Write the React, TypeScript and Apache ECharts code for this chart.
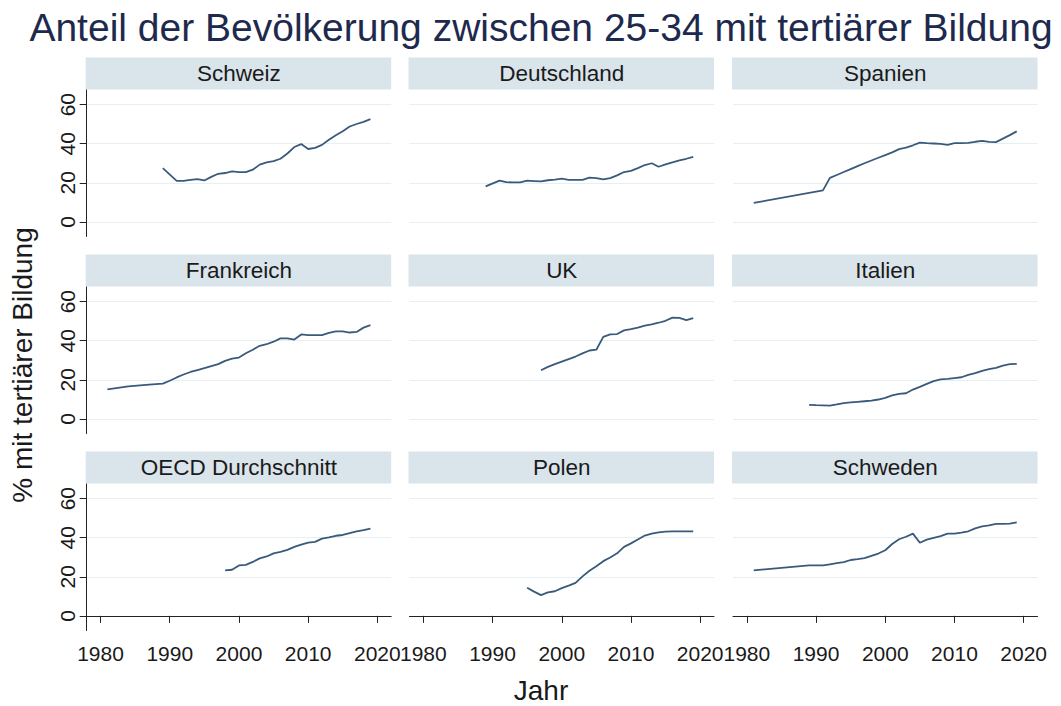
import React, { useEffect, useRef } from "react";
import * as echarts from "echarts";

const TITLE = "Anteil der Bevölkerung zwischen 25-34 mit tertiärer Bildung";
const Y_TITLE = "% mit tertiärer Bildung";
const X_TITLE = "Jahr";

const X_TICKS = [1980, 1990, 2000, 2010, 2020];
const Y_TICKS = [0, 20, 40, 60];

const yearsSchweiz = [1989, 1991, 1992, 1993, 1994, 1995, 1996, 1997, 1998, 1999, 2000, 2001, 2002, 2003, 2004, 2005, 2006, 2007, 2008, 2009, 2010, 2011, 2012, 2013, 2014, 2015, 2016, 2017, 2018, 2019];
const valuesSchweiz = [27.5, 21.0, 21.0, 21.5, 21.9, 21.2, 23.0, 24.6, 25.0, 25.8, 25.5, 25.5, 26.7, 29.3, 30.5, 31.1, 32.3, 35.0, 38.3, 39.8, 37.3, 37.9, 39.4, 42.0, 44.3, 46.4, 48.8, 50.1, 51.2, 52.6];

const yearsDeutschland = [1989, 1991, 1992, 1993, 1994, 1995, 1996, 1997, 1998, 1999, 2000, 2001, 2002, 2003, 2004, 2005, 2006, 2007, 2008, 2009, 2010, 2011, 2012, 2013, 2014, 2015, 2016, 2017, 2018, 2019];
const valuesDeutschland = [18.2, 21.1, 20.3, 20.2, 20.2, 21.1, 20.9, 20.7, 21.3, 21.6, 22.1, 21.5, 21.5, 21.5, 22.6, 22.4, 21.7, 22.4, 23.8, 25.5, 26.1, 27.5, 29.1, 30.0, 28.2, 29.4, 30.5, 31.5, 32.3, 33.3];

const yearsSpanien = [1981, 1991, 1992, 1993, 1994, 1995, 1996, 1997, 1998, 1999, 2000, 2001, 2002, 2003, 2004, 2005, 2006, 2007, 2008, 2009, 2010, 2011, 2012, 2013, 2014, 2015, 2016, 2017, 2018, 2019];
const valuesSpanien = [9.7, 16.1, 22.5, 24.0, 25.5, 27.0, 28.5, 30.0, 31.4, 32.8, 34.2, 35.6, 37.2, 38.0, 39.2, 40.6, 40.3, 40.1, 39.9, 39.4, 40.3, 40.3, 40.4, 41.0, 41.5, 40.9, 40.8, 42.6, 44.4, 46.3];

const yearsFrankreich = [1981, 1984, 1987, 1989, 1990, 1991, 1992, 1993, 1994, 1995, 1996, 1997, 1998, 1999, 2000, 2001, 2002, 2003, 2004, 2005, 2006, 2007, 2008, 2009, 2010, 2011, 2012, 2013, 2014, 2015, 2016, 2017, 2018, 2019];
const valuesFrankreich = [15.1, 16.6, 17.5, 18.0, 19.5, 21.2, 22.7, 24.0, 25.0, 26.0, 27.0, 28.0, 29.7, 30.8, 31.4, 33.6, 35.4, 37.4, 38.2, 39.5, 41.2, 41.2, 40.6, 43.2, 42.9, 42.9, 42.9, 44.0, 44.8, 44.8, 44.2, 44.5, 46.7, 48.0];

const yearsUK = [1997, 1998, 1999, 2000, 2001, 2002, 2003, 2004, 2005, 2006, 2007, 2008, 2009, 2010, 2011, 2012, 2013, 2014, 2015, 2016, 2017, 2018, 2019];
const valuesUK = [24.9, 26.6, 28.0, 29.3, 30.6, 31.9, 33.5, 35.0, 35.4, 42.0, 43.2, 43.4, 45.3, 45.9, 46.7, 47.7, 48.4, 49.2, 50.2, 51.8, 51.7, 50.5, 51.6];

const yearsItalien = [1989, 1990, 1991, 1992, 1993, 1994, 1995, 1996, 1997, 1998, 1999, 2000, 2001, 2002, 2003, 2004, 2005, 2006, 2007, 2008, 2009, 2010, 2011, 2012, 2013, 2014, 2015, 2016, 2017, 2018, 2019];
const valuesItalien = [7.2, 7.0, 6.9, 6.8, 7.4, 8.1, 8.4, 8.7, 9.0, 9.3, 9.9, 10.7, 12.0, 12.8, 13.1, 15.0, 16.4, 17.9, 19.3, 20.2, 20.5, 20.9, 21.3, 22.5, 23.4, 24.6, 25.4, 26.1, 27.3, 28.0, 28.1];

const yearsOECD = [1998, 1999, 2000, 2001, 2002, 2003, 2004, 2005, 2006, 2007, 2008, 2009, 2010, 2011, 2012, 2013, 2014, 2015, 2016, 2017, 2018, 2019];
const valuesOECD = [23.3, 23.6, 25.8, 26.1, 27.6, 29.4, 30.4, 32.0, 32.8, 33.8, 35.3, 36.5, 37.5, 37.9, 39.5, 40.2, 41.0, 41.4, 42.3, 43.2, 43.9, 44.7];

const yearsPolen = [1995, 1996, 1997, 1998, 1999, 2000, 2001, 2002, 2003, 2004, 2005, 2006, 2007, 2008, 2009, 2010, 2011, 2012, 2013, 2014, 2015, 2016, 2017, 2018, 2019];
const valuesPolen = [14.4, 12.4, 10.6, 12.0, 12.6, 14.2, 15.5, 16.9, 20.2, 23.1, 25.4, 28.0, 29.9, 32.0, 35.3, 37.1, 39.1, 41.1, 42.1, 42.7, 43.1, 43.2, 43.2, 43.2, 43.2];

const yearsSchweden = [1981, 1985, 1989, 1990, 1991, 1992, 1993, 1994, 1995, 1996, 1997, 1998, 1999, 2000, 2001, 2002, 2003, 2004, 2005, 2006, 2007, 2008, 2009, 2010, 2011, 2012, 2013, 2014, 2015, 2016, 2017, 2018, 2019];
const valuesSchweden = [23.3, 24.6, 25.8, 25.8, 25.8, 26.4, 27.0, 27.5, 28.6, 29.0, 29.5, 30.7, 31.9, 33.6, 36.8, 39.2, 40.5, 42.1, 37.4, 39.0, 39.9, 40.8, 42.1, 42.1, 42.6, 43.3, 44.8, 45.8, 46.3, 47.1, 47.1, 47.2, 47.9];

const panelNames = ["Schweiz", "Deutschland", "Spanien", "Frankreich", "UK", "Italien", "OECD Durchschnitt", "Polen", "Schweden"];
const panelYears = [yearsSchweiz, yearsDeutschland, yearsSpanien, yearsFrankreich, yearsUK, yearsItalien, yearsOECD, yearsPolen, yearsSchweden];
const panelValues = [valuesSchweiz, valuesDeutschland, valuesSpanien, valuesFrankreich, valuesUK, valuesItalien, valuesOECD, valuesPolen, valuesSchweden];

const FONT = "'Liberation Sans', Arial, Helvetica, sans-serif";
const LINE_COLOR = "#3a5a7c";
const STRIP_COLOR = "#d9e4eb";
const GRID_COLOR = "#e6eff1";
const AXIS_COLOR = "#222222";
const TEXT_COLOR = "#1a1a1a";

const COL_LEFT = [86.7, 409.5, 733];
const ROW_TOP = [90, 287, 484];
const PW = 304.5;
const PH = 146.5;
const STRIP_H = 32;

export default function App() {
  const ref = useRef<HTMLDivElement>(null);
  useEffect(() => {
    const chart = echarts.init(ref.current!, null, { renderer: "svg" });
    const grids: any[] = [];
    const xAxes: any[] = [];
    const yAxes: any[] = [];
    const series: any[] = [];
    const graphics: any[] = [];
    panelNames.forEach((name, i) => {
      const r = Math.floor(i / 3);
      const c = i % 3;
      const left = COL_LEFT[c];
      const top = ROW_TOP[r];
      grids.push({ left, top, width: PW, height: PH, containLabel: false });
      const bottomRow = r === 2;
      const firstCol = c === 0;
      xAxes.push({
        type: "value",
        gridIndex: i,
        min: 1978,
        max: 2022,
        show: bottomRow,
        axisLine: { show: true, lineStyle: { color: AXIS_COLOR, width: 1 } },
        axisTick: { show: true, length: 7, customValues: X_TICKS, lineStyle: { color: AXIS_COLOR } },
        axisLabel: {
          show: true,
          customValues: X_TICKS,
          margin: 12,
          fontSize: 21,
          fontFamily: FONT,
          color: TEXT_COLOR,
          formatter: (v: number) => String(v),
        },
        splitLine: { show: false },
      });
      yAxes.push({
        type: "value",
        gridIndex: i,
        min: -7.5,
        max: 67.5,
        axisLine: { show: firstCol, lineStyle: { color: AXIS_COLOR, width: 1 } },
        axisTick: { show: firstCol, length: 7, customValues: Y_TICKS, lineStyle: { color: AXIS_COLOR } },
        axisLabel: {
          show: firstCol,
          customValues: Y_TICKS,
          rotate: 90,
          margin: 9,
          fontSize: 21,
          fontFamily: FONT,
          color: TEXT_COLOR,
          formatter: (v: number) => String(v),
        },
        splitLine: { show: true, lineStyle: { color: GRID_COLOR, width: 1.2 } },
      });
      series.push({
        type: "line",
        xAxisIndex: i,
        yAxisIndex: i,
        showSymbol: false,
        symbol: "none",
        data: panelYears[i].map((y, k) => [y, panelValues[i][k]]),
        lineStyle: { color: LINE_COLOR, width: 1.8 },
        itemStyle: { color: LINE_COLOR },
      });
      graphics.push({
        type: "rect",
        shape: { x: left - 1, y: top - STRIP_H - 0.5, width: PW + 1, height: STRIP_H },
        style: { fill: STRIP_COLOR },
        silent: true,
      });
      graphics.push({
        type: "text",
        x: left + PW / 2,
        y: top - STRIP_H / 2 - 0.5,
        style: {
          text: name,
          fontSize: 22.5,
          fontFamily: FONT,
          fill: TEXT_COLOR,
          align: "center",
          verticalAlign: "middle",
        },
        silent: true,
      });
    });
    graphics.push({
      type: "text",
      x: 541,
      y: 27,
      style: {
        text: TITLE,
        fontSize: 39,
        fontFamily: FONT,
        fill: "#1e2a4d",
        align: "center",
        verticalAlign: "middle",
      },
    });
    graphics.push({
      type: "text",
      x: 541,
      y: 690,
      style: {
        text: X_TITLE,
        fontSize: 28,
        fontFamily: FONT,
        fill: TEXT_COLOR,
        align: "center",
        verticalAlign: "middle",
      },
    });
    graphics.push({
      type: "text",
      x: 22,
      y: 365,
      rotation: Math.PI / 2,
      style: {
        text: Y_TITLE,
        fontSize: 28,
        fontFamily: FONT,
        fill: TEXT_COLOR,
        align: "center",
        verticalAlign: "middle",
      },
    });
    chart.setOption({
      animation: false,
      backgroundColor: "#ffffff",
      grid: grids,
      xAxis: xAxes,
      yAxis: yAxes,
      series,
      graphic: graphics,
    });
    return () => chart.dispose();
  }, []);
  return (
    <div
      ref={ref}
      style={{ position: "fixed", left: 0, top: 0, width: 1061, height: 706 }}
    />
  );
}
